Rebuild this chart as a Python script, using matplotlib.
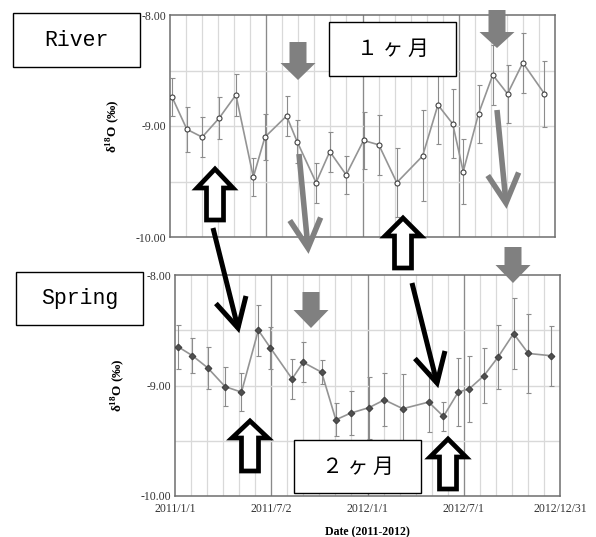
import numpy as np
import pandas as pd
import matplotlib
matplotlib.use("Agg")
import matplotlib.pyplot as plt
from matplotlib.patches import Polygon, Rectangle

plt.rcParams['font.family'] = ['Liberation Serif', 'DejaVu Serif']
plt.rcParams['mathtext.fontset'] = 'custom'
plt.rcParams['mathtext.rm'] = 'Liberation Serif'
plt.rcParams['mathtext.bf'] = 'Liberation Serif:bold'

# River (top panel) - monthly d18O with error bars
river_dates = ["2011-01-05", "2011-02-02", "2011-03-03", "2011-04-04", "2011-05-06", "2011-06-08",
               "2011-06-30", "2011-08-10", "2011-08-30", "2011-10-05", "2011-10-31", "2011-12-01",
               "2012-01-03", "2012-02-01", "2012-03-06", "2012-04-24", "2012-05-23", "2012-06-20",
               "2012-07-10", "2012-08-08", "2012-09-04", "2012-10-02", "2012-10-31", "2012-12-11"]
river_d18o = [-8.74, -9.03, -9.10, -8.93, -8.72, -9.46, -9.10, -8.91, -9.14, -9.51, -9.23, -9.44,
              -9.13, -9.17, -9.51, -9.27, -8.81, -8.98, -9.41, -8.89, -8.54, -8.71, -8.43, -8.71]
river_err = [0.17, 0.20, 0.18, 0.19, 0.19, 0.17, 0.21, 0.18, 0.19, 0.18, 0.18, 0.17,
             0.26, 0.27, 0.31, 0.41, 0.35, 0.31, 0.29, 0.26, 0.27, 0.26, 0.27, 0.30]

# Spring (bottom panel)
spring_dates = ["2011-01-07", "2011-02-03", "2011-03-04", "2011-04-06", "2011-05-07", "2011-06-08",
                "2011-07-01", "2011-08-11", "2011-09-01", "2011-10-06", "2011-11-02", "2011-11-30",
                "2012-01-04", "2012-02-02", "2012-03-08", "2012-04-26", "2012-05-24", "2012-06-21",
                "2012-07-12", "2012-08-09", "2012-09-05", "2012-10-04", "2012-11-01", "2012-12-13"]
spring_d18o = [-8.65, -8.73, -8.84, -9.01, -9.06, -8.50, -8.66, -8.94, -8.79, -8.88, -9.31, -9.25,
               -9.20, -9.13, -9.21, -9.15, -9.28, -9.06, -9.03, -8.91, -8.74, -8.53, -8.71, -8.73]
spring_err = [0.20, 0.16, 0.19, 0.18, 0.175, 0.23, 0.19, 0.18, 0.18, 0.11, 0.15, 0.20,
              0.28, 0.24, 0.31, 0.27, 0.135, 0.31, 0.30, 0.25, 0.29, 0.32, 0.36, 0.27]

tick_labels = ["2011/1/1", "2011/7/2", "2012/1/1", "2012/7/1", "2012/12/31"]
start = pd.Timestamp("2011-01-01")
span = 730                                                  # days, 2011/1/1 .. 2012/12/31

def to_days(dates):
    return (pd.to_datetime(dates) - start).days.values

fig = plt.figure(figsize=(5.96, 5.37), dpi=100)
W, H = 596, 537

def panel(rect, dates, vals, errs, marker, mfc, show_x):
    l, t, r, b = rect                                       # pixel box of plot area
    ax = fig.add_axes([l / W, 1 - b / H, (r - l) / W, (b - t) / H])
    x = to_days(dates)
    ax.errorbar(x, vals, yerr=errs, fmt='none', ecolor='#8c8c8c', elinewidth=0.8, capsize=1.8, capthick=0.8, zorder=3)
    ax.plot(x, vals, color='#949494', lw=1.2, marker=marker, ms=3.6 if marker == 'o' else 3.4,
            mfc=mfc, mec='#404040', mew=0.8, zorder=4)
    ax.set_xlim(0, span)
    ax.set_ylim(-10, -8)
    # grid: monthly light lines, half-year darker lines
    for xm in np.linspace(0, span, 25)[1:-1]:
        ax.axvline(xm, color='#d9d9d9', lw=0.9, zorder=1)
    for xm in np.linspace(0, span, 5)[1:-1]:
        ax.axvline(xm, color='#8a8a8a', lw=0.9, zorder=1)
    for ym in (-9.5, -9.0, -8.5):
        ax.axhline(ym, color='#d9d9d9', lw=1.0, zorder=1)
    ax.set_yticks([-10, -9, -8])
    ax.set_yticklabels(["-10.00", "-9.00", "-8.00"], fontsize=8.5, color='#333333')
    ax.set_xticks(np.linspace(0, span, 5))
    if show_x:
        ax.set_xticklabels(tick_labels, fontsize=8.5, color='#333333')
        ax.set_xlabel("Date (2011-2012)", fontsize=8.5, fontweight='bold', labelpad=8)
    else:
        ax.set_xticklabels([])
    ax.tick_params(axis='y', length=0, pad=3)
    ax.tick_params(axis='x', length=0, pad=5)
    for s in ax.spines.values():
        s.set_color('#6e6e6e')
        s.set_linewidth(1.1)
    ax.set_ylabel(r"δ$^{\mathbf{18}}$O (‰)", fontsize=9.5, fontweight='bold')
    ax.yaxis.set_label_coords(-0.125, 0.5)
    return ax

ax1 = panel((170, 15, 555, 237), river_dates, river_d18o, river_err, 'o', 'white', False)
ax2 = panel((175, 275, 560, 496), spring_dates, spring_d18o, spring_err, 'D', '#505050', True)

# overlay in pixel coordinates for the hand-drawn annotations
ov = fig.add_axes([0, 0, 1, 1], zorder=10)
ov.set_xlim(0, W)
ov.set_ylim(H, 0)
ov.axis('off')
ov.patch.set_alpha(0)

# label boxes: (left, top, right, bottom, text, family, size)
boxes = [(13, 13, 140, 67, "River", 'Liberation Mono', 15.5),
         (16, 272, 143, 325, "Spring", 'Liberation Mono', 15.5),
         (329, 22, 456, 76, "１ ヶ 月", 'Noto Sans CJK JP', 15),
         (294, 440, 421, 493, "２ ヶ 月", 'Noto Sans CJK JP', 15)]
for l, t, r, b, txt, fam, fs in boxes:
    ov.add_patch(Rectangle((l, t), r - l, b - t, facecolor='white', edgecolor='black', lw=1.0))
    ov.text((l + r) / 2, (t + b) / 2, txt, family=fam, fontsize=fs, ha='center', va='center')

def block_arrow(xc, y_tail, y_head, y_tip, shaft_w, head_w, **kw):
    s, h = shaft_w / 2, head_w / 2
    pts = [(xc - s, y_tail), (xc + s, y_tail), (xc + s, y_head), (xc + h, y_head),
           (xc, y_tip), (xc - h, y_head), (xc - s, y_head)]
    ov.add_patch(Polygon(pts, closed=True, joinstyle='miter', **kw))

# grey solid down arrows
for xc, yt, yh, yp in [(298, 42, 63, 80), (497, 10, 32, 48), (311, 292, 310, 328), (513, 247, 265, 283)]:
    block_arrow(xc, yt, yh, yp, 17, 35, facecolor='#808080', edgecolor='none')

# hollow black up arrows
for xc, yp, yh, yb in [(215, 169, 188, 220), (403, 218, 236, 268), (250, 421, 438, 471), (448, 439, 457, 489)]:
    block_arrow(xc, yb, yh, yp, 17, 36, facecolor='white', edgecolor='black', lw=3.4)

def line_arrow(x0, y0, x1, y1, color, lw):
    d = np.array([x0 - x1, y0 - y1], float)
    d /= np.hypot(*d)
    wings = []
    for a in (np.radians(28), -np.radians(28)):
        rot = np.array([[np.cos(a), -np.sin(a)], [np.sin(a), np.cos(a)]])
        wings.append(np.array([x1, y1]) + 33 * rot @ d)
    ov.plot([x0, x1], [y0, y1], color=color, lw=lw, solid_capstyle='butt')
    ov.plot([wings[0][0], x1, wings[1][0]], [wings[0][1], y1, wings[1][1]], color=color, lw=lw,
            solid_joinstyle='miter', solid_capstyle='butt')

line_arrow(299, 154, 308, 248, '#808080', 4.0)
line_arrow(497, 110, 506, 203, '#808080', 4.0)
line_arrow(213, 228, 238, 328, 'black', 3.6)
line_arrow(412, 283, 437, 383, 'black', 3.6)

fig.savefig("out.png", dpi=100)
